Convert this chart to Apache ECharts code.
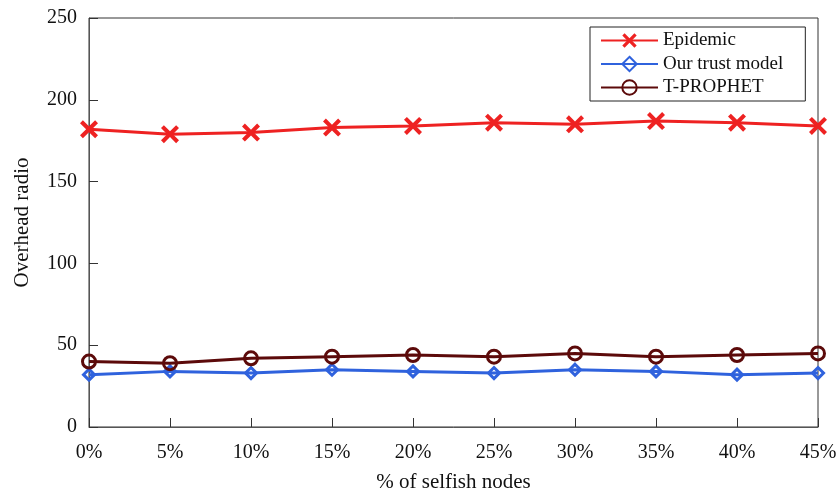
<!DOCTYPE html>
<html>
<head>
<meta charset="utf-8">
<script src="https://cdn.jsdelivr.net/npm/echarts@6/dist/echarts.min.js"></script>
<style>
  html, body { margin: 0; padding: 0; background: #fff; }
  #chart { width: 840px; height: 499px; }
</style>
</head>
<body>
<div id="chart"></div>
<script>
// Percentage of selfish nodes in the network
const categories = ['0%', '5%', '10%', '15%', '20%', '25%', '30%', '35%', '40%', '45%'];

// Overhead ratio per routing scheme
const epidemic   = [182, 179, 180, 183, 184, 186, 185, 187, 186, 184];
const trustModel = [32, 34, 33, 35, 34, 33, 35, 34, 32, 33];
const tProphet   = [40, 39, 42, 43, 44, 43, 45, 43, 44, 45];

const yTicks = { min: 0, max: 250, interval: 50 };

const FONT = '"Liberation Serif", "DejaVu Serif", serif';
const CLEAR = 'rgba(255,255,255,0)';

// Filled "X" outline used as the Epidemic marker
const crossSymbol = 'path://M1.6,0 L5,3.4 L8.4,0 L10,1.6 L6.6,5 L10,8.4 L8.4,10 L5,6.6 L1.6,10 L0,8.4 L3.4,5 L0,1.6 Z';

const chart = echarts.init(document.getElementById('chart'), null, { renderer: 'canvas' });

chart.setOption({
  animation: false,
  backgroundColor: '#ffffff',
  grid: {
    left: 89, right: 22, top: 18, bottom: 72,
    outerBoundsMode: 'none',
    containLabel: false,
    show: true, borderColor: '#333', borderWidth: 1
  },
  legend: {
    orient: 'vertical',
    left: 590, top: 27,
    itemWidth: 57, itemHeight: 18, itemGap: 4.5,
    padding: [4, 22, 4, 10],
    borderColor: '#222', borderWidth: 1,
    backgroundColor: '#fff',
    textStyle: { fontFamily: FONT, fontSize: 19, color: '#111' },
    data: ['Epidemic', 'Our trust model', 'T-PROPHET']
  },
  xAxis: {
    type: 'category',
    data: categories,
    boundaryGap: false,
    name: '% of selfish nodes',
    nameLocation: 'middle',
    nameGap: 45,
    nameTextStyle: { fontFamily: FONT, fontSize: 21, color: '#111' },
    axisLine: { lineStyle: { color: '#555', width: 1 } },
    axisTick: { inside: true, length: 9, alignWithLabel: true, lineStyle: { color: '#333' } },
    axisLabel: { fontFamily: FONT, fontSize: 20, color: '#111', margin: 16 },
    splitLine: { show: false }
  },
  yAxis: {
    type: 'value',
    min: yTicks.min, max: yTicks.max, interval: yTicks.interval,
    name: 'Overhead radio',
    nameLocation: 'middle',
    nameGap: 56,
    nameTextStyle: { fontFamily: FONT, fontSize: 21, color: '#111' },
    axisLine: { show: true, lineStyle: { color: '#555', width: 1 } },
    axisTick: { show: true, inside: true, length: 9, lineStyle: { color: '#333' } },
    axisLabel: { fontFamily: FONT, fontSize: 20, color: '#111', margin: 12 },
    splitLine: { show: false }
  },
  series: [
    {
      name: 'Epidemic',
      type: 'line',
      data: epidemic,
      color: '#ee2222',
      lineStyle: { width: 3, color: '#ee2222' },
      symbol: crossSymbol,
      symbolSize: 18,
      itemStyle: { color: '#ee2222' },
      z: 3
    },
    {
      name: 'Our trust model',
      type: 'line',
      data: trustModel,
      color: '#2f62dd',
      lineStyle: { width: 3, color: '#2f62dd' },
      symbol: 'diamond',
      symbolSize: 11,
      itemStyle: { color: CLEAR, borderColor: '#2f62dd', borderWidth: 3 },
      z: 2
    },
    {
      name: 'T-PROPHET',
      type: 'line',
      data: tProphet,
      color: '#5c0a0a',
      lineStyle: { width: 3, color: '#5c0a0a' },
      symbol: 'circle',
      symbolSize: 13,
      itemStyle: { color: CLEAR, borderColor: '#5c0a0a', borderWidth: 3 },
      z: 4
    }
  ]
});
</script>
</body>
</html>
